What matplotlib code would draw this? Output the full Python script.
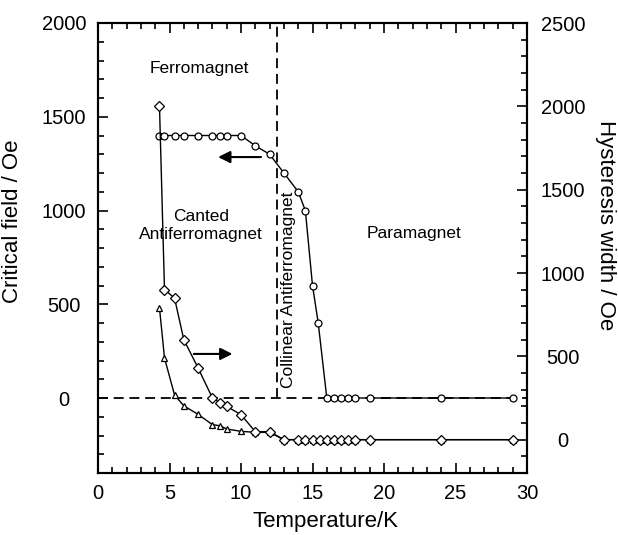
import matplotlib
matplotlib.use("Agg")
import matplotlib.pyplot as plt
from matplotlib.ticker import MultipleLocator

plt.rcParams["font.family"] = ["Liberation Sans", "DejaVu Sans"]

# ---- data ----
# critical field (left axis, open circles)
T_crit = [4.3, 4.65, 5.35, 6, 7, 8, 8.5, 9, 10, 11, 12, 13, 14, 14.5, 15, 15.4,
          16, 16.5, 17, 17.5, 18, 19, 24, 29]
H_crit = [1400, 1400, 1400, 1400, 1400, 1400, 1400, 1400, 1400, 1345, 1300, 1200,
          1100, 1000, 600, 400, 0, 0, 0, 0, 0, 0, 0, 0]

# hysteresis width (right axis, diamonds and triangles)
T_hyst = [4.3, 4.65, 5.35, 6, 7, 8, 8.5, 9, 10, 11, 12, 13, 14, 14.5, 15, 15.5,
          16, 16.5, 17, 17.5, 18, 19, 24, 29]
W_diam = [2000, 900, 850, 600, 430, 250, 223, 200, 150, 48, 48, 0, 0, 0, 0, 0,
          0, 0, 0, 0, 0, 0, 0, 0]
W_tri = [790, 490, 269, 203, 152, 90, 84, 64, 50, 44, 44, 0, 0, 0, 0, 0,
         0, 0, 0, 0, 0, 0, 0, 0]

T_boundary = 12.5

fig = plt.figure(figsize=(6.18, 5.35), dpi=100)
ax = fig.add_axes([98 / 618, 1 - 473 / 535, 429 / 618, 450 / 535])
ax2 = ax.twinx()

# phase boundaries
dash = (0, (5.5, 3.2))
ax.plot([0, 30], [0, 0], color="k", lw=1.3, ls=dash, zorder=1)
ax.plot([T_boundary, T_boundary], [0, 2000], color="k", lw=1.3, ls=dash, zorder=1)

ax.plot(T_crit, H_crit, "-o", color="k", lw=1.0, ms=5, mfc="white", mew=0.9, zorder=3)
ax2.plot(T_hyst, W_tri, "-^", color="k", lw=1.0, ms=5, mfc="white", mew=0.9, zorder=3)
ax2.plot(T_hyst, W_diam, "-D", color="k", lw=1.0, ms=4.6, mfc="white", mew=0.9, zorder=4)

# arrows pointing to the axis each curve belongs to
ax.annotate("", xy=(8.4, 1285), xytext=(11.4, 1285),
            arrowprops=dict(arrowstyle="-|>", color="k", lw=1.5,
                            mutation_scale=18, shrinkA=0, shrinkB=0))
ax.annotate("", xy=(9.4, 235), xytext=(6.7, 235),
            arrowprops=dict(arrowstyle="-|>", color="k", lw=1.5,
                            mutation_scale=18, shrinkA=0, shrinkB=0))

# phase labels
ax.text(7.1, 1755, "Ferromagnet", ha="center", va="center", fontsize=12.5)
ax.text(7.2, 921, "Canted\nAntiferromagnet", ha="center", va="center",
        fontsize=12.5, linespacing=1.2)
ax.text(13.3, 578, "Collinear Antiferromagnet", ha="center", va="center",
        rotation=90, fontsize=12.5)
ax.text(22.1, 875, "Paramagnet", ha="center", va="center", fontsize=12.5)

# axes, ticks
ax.set_xlim(0, 30)
ax.set_ylim(-400, 2000)
ax2.set_ylim(-200, 2500)

ax.xaxis.set_major_locator(MultipleLocator(5))
ax.xaxis.set_minor_locator(MultipleLocator(1))
ax.yaxis.set_major_locator(MultipleLocator(500))
ax.yaxis.set_minor_locator(MultipleLocator(100))
ax2.yaxis.set_major_locator(MultipleLocator(500))
ax2.yaxis.set_minor_locator(MultipleLocator(100))

ax.set_yticks([0, 500, 1000, 1500, 2000])
ax2.set_yticks([0, 500, 1000, 1500, 2000, 2500])

ax.tick_params(which="both", direction="in", top=True, right=False, width=1.2,
               labelsize=14.5)
ax.tick_params(which="major", length=7)
ax.tick_params(which="minor", length=4)
ax.tick_params(axis="x", pad=8)
ax.tick_params(axis="y", pad=24.5)
for lab in ax.get_yticklabels():
    lab.set_horizontalalignment("center")

ax2.tick_params(which="both", direction="in", width=1.2, labelsize=14.5, pad=26)
ax2.tick_params(which="major", length=7)
ax2.tick_params(which="minor", length=4)
for lab in ax2.get_yticklabels():
    lab.set_horizontalalignment("center")

for a in (ax, ax2):
    for sp in a.spines.values():
        sp.set_linewidth(1.5)

ax.set_xlabel("Temperature/K", fontsize=16)
ax.xaxis.set_label_coords(0.53, -0.084)
ax.set_ylabel("Critical field / Oe", fontsize=16)
ax.yaxis.set_label_coords(-0.175, 0.56)
ax2.set_ylabel("Hysteresis width / Oe", fontsize=16, rotation=270, va="center")
ax2.yaxis.set_label_coords(1.182, 0.55)

fig.savefig("out.png", dpi=100)
